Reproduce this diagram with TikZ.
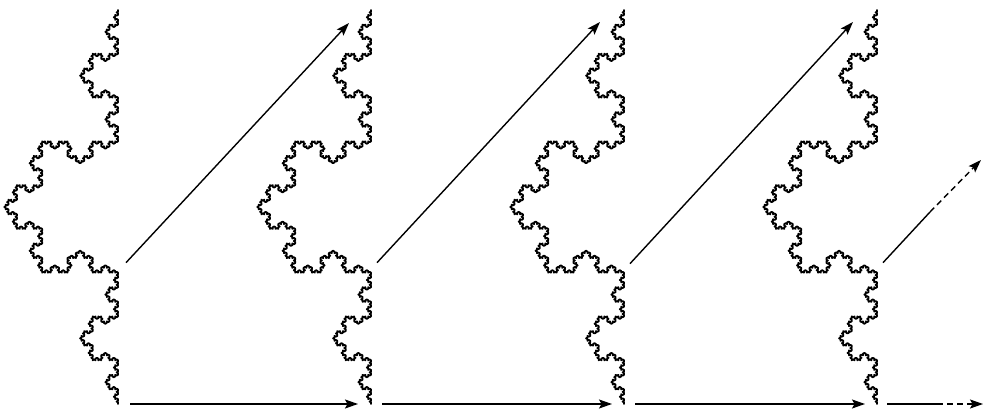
\documentclass[tikz,border=0pt]{standalone}
\usetikzlibrary{lindenmayersystems,arrows.meta,calc}
\pgfdeclarelindenmayersystem{KochUp}{\rule{F -> F+F--F+F}}
\tikzset{
  koch/.style={line width=1.8pt, line join=round, line cap=round},
  tipstyle/.style={-{Stealth[length=13pt,width=9pt,inset=2.5pt]}},
  arr/.style={line width=1.4pt, tipstyle},
  plainline/.style={line width=1.4pt},
  dasharr/.style={line width=1.4pt, dash pattern=on 6pt off 4pt, tipstyle},
}
\begin{document}
\begin{tikzpicture}[x=1pt,y=1pt]
\useasboundingbox (0,0) rectangle (985,412);
\foreach \i/\x in {1/118,2/371,3/624,4/877}{
  \coordinate (b\i) at (\x,8);
  \coordinate (m\i) at (\x,139.33);
  \coordinate (t\i) at (\x,402);
  \begin{scope}[shift={(\x,8)}, rotate=90]
    \draw[koch, l-system={KochUp, axiom=F, order=5, step=1.6214pt, angle=60}] (0,0) l-system;
  \end{scope}
}
% horizontal arrows
\draw[arr] ($(b1)+(12,0)$) -- ($(b2)+(-13,0)$);
\draw[arr] ($(b2)+(11,0)$) -- ($(b3)+(-12,0)$);
\draw[arr] ($(b3)+(11,0)$) -- ($(b4)+(-12,0)$);
\coordinate (h1) at ($(b4)+(10,0)$);
\coordinate (h2) at ($(b4)+(60,0)$);
\coordinate (h3) at (983,8);
\draw[plainline] (h1) -- (h2);
\draw[dasharr] (h2) -- (h3);
% diagonal arrows
\draw[arr] ($(m1)+(8,10)$) -- ($(t2)+(-22,-13)$);
\draw[arr] ($(m2)+(6,10)$) -- ($(t3)+(-24,-12)$);
\draw[arr] ($(m3)+(6,9)$) -- ($(t4)+(-24,-12)$);
\coordinate (d1) at ($(m4)+(6,10)$);
\coordinate (d2) at (930,200);
\coordinate (d3) at (981,252);
\draw[plainline] (d1) -- (d2);
\draw[dasharr] (d2) -- (d3);
\end{tikzpicture}
\end{document}
